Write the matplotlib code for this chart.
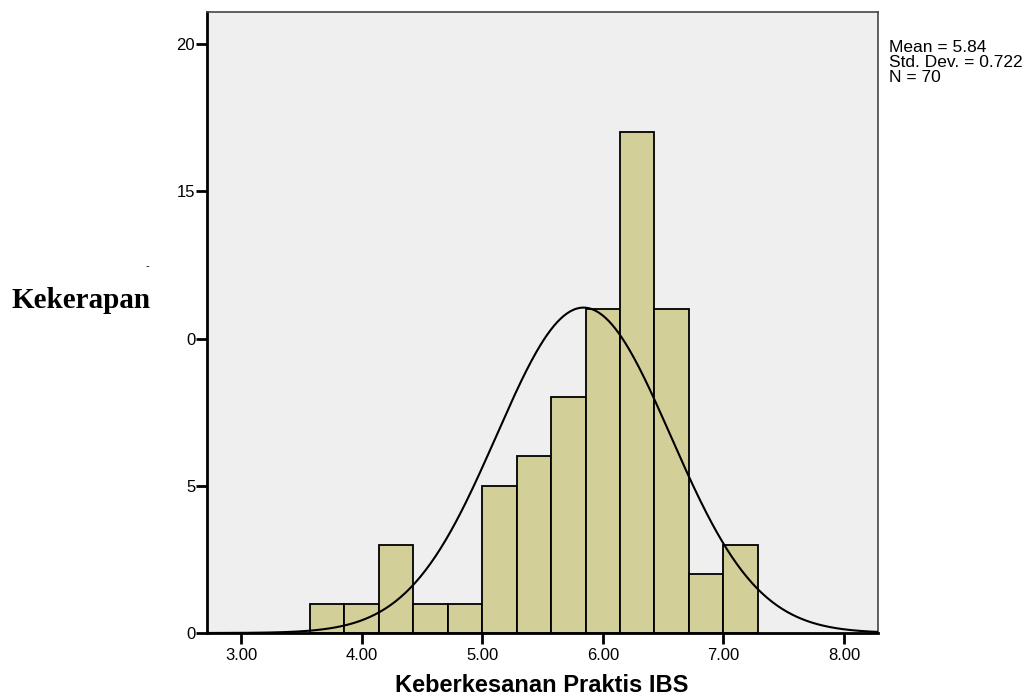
import numpy as np
import matplotlib.pyplot as plt

# histogram data (read from the SPSS output)
bin_edges = [3.5714 + i * 0.2857 for i in range(14)]
counts = [1, 1, 3, 1, 1, 5, 6, 8, 11, 17, 11, 2, 3]
mean, sd, n = 5.84, 0.722, 70
xticks = [3, 4, 5, 6, 7, 8]
xtick_labels = ["3.00", "4.00", "5.00", "6.00", "7.00", "8.00"]
yticks = [0, 5, 10, 15, 20]
ytick_labels = ["0", "5", "0", "15", "20"]

fig = plt.figure(figsize=(10.26, 6.98), dpi=100)
ax = fig.add_axes([207 / 1026, 65 / 698, 671 / 1026, 621 / 698])
ax.set_facecolor("#efefef")

widths = np.diff(bin_edges)
ax.bar(bin_edges[:-1], counts, width=widths, align="edge",
       color="#d3cf99", edgecolor="black", linewidth=1.3, zorder=2)

# fitted normal curve
bw = widths.mean()
xs = np.linspace(2.718, 8.282, 400)
ys = n * bw * np.exp(-0.5 * ((xs - mean) / sd) ** 2) / (sd * np.sqrt(2 * np.pi))
ax.plot(xs, ys, color="black", linewidth=1.5, zorder=3)

ax.set_xlim(2.718, 8.282)
ax.set_ylim(0, 21.09)
ax.set_xticks(xticks)
ax.set_xticklabels(xtick_labels, fontsize=12, family="Liberation Sans")
ax.set_yticks(yticks)
ax.set_yticklabels(ytick_labels, fontsize=12, family="Liberation Sans")
ax.tick_params(axis="x", direction="out", length=8, width=2, pad=3)
ax.tick_params(axis="y", direction="out", length=8, width=2, pad=0.5)

for s in ["left", "bottom"]:
    ax.spines[s].set_linewidth(2)
    ax.spines[s].set_color("black")
for s in ["top", "right"]:
    ax.spines[s].set_linewidth(1.2)
    ax.spines[s].set_color("#444444")

fig.text(542 / 1026, 1 - 686 / 698, "Keberkesanan Praktis IBS",
         ha="center", va="center", fontsize=17, fontweight="bold",
         family="Liberation Sans")
fig.text(12 / 1026, 1 - 300 / 698, "Kekerapan", ha="left", va="center",
         fontsize=21, fontweight="bold", family="Liberation Serif")
fig.text(147 / 1026, 1 - 266 / 698, "-", ha="center", va="center",
         fontsize=8, family="Liberation Sans")

fig.text(889 / 1026, 1 - 40 / 698,
         "Mean = %.2f\nStd. Dev. = %.3f\nN = %d" % (mean, sd, n),
         ha="left", va="top", fontsize=12.5, linespacing=1.02,
         family="Liberation Sans")

fig.savefig("out.png", dpi=100)
